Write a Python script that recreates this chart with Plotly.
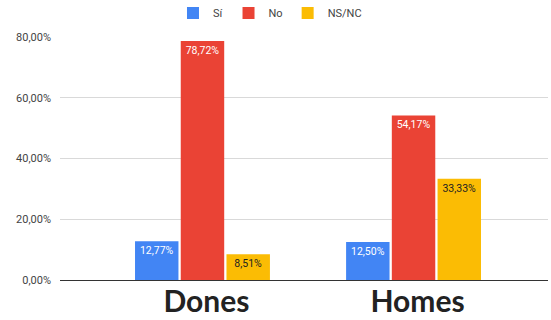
import plotly.graph_objects as go

categories = ["Dones", "Homes"]
series_names = ["Sí", "No", "NS/NC"]
si_values = [12.77, 12.50]
no_values = [78.72, 54.17]
nsnc_values = [8.51, 33.33]
y_ticks = [0, 20, 40, 60, 80]
y_tick_labels = ["0,00%", "20,00%", "40,00%", "60,00%", "80,00%"]

colors = ["#4285F4", "#EA4335", "#FBBC04"]
text_colors = ["#FFFFFF", "#FFFFFF", "#222222"]

fig = go.Figure()
for name, vals, col, tcol in zip(series_names, [si_values, no_values, nsnc_values], colors, text_colors):
    fig.add_trace(go.Bar(
        name=name, x=categories, y=vals,
        marker=dict(color=col, line=dict(width=0)),
        texttemplate="%{y:.2f}%", textposition="inside", insidetextanchor="end",
        textangle=0,
        textfont=dict(family="Roboto", size=10.5, color=tcol),
        cliponaxis=False,
    ))

fig.update_layout(
    width=551, height=320,
    margin=dict(l=60, r=3, t=37, b=40, autoexpand=False),
    paper_bgcolor="white", plot_bgcolor="white",
    separators=",.",
    barmode="group", bargap=0.35, bargroupgap=0.05,
    uniformtext=dict(mode="show", minsize=8),
    legend=dict(orientation="h", xref="container", x=0.49, xanchor="center",
                y=1.099, yanchor="middle",
                font=dict(family="Roboto", size=11, color="#444444"),
                itemwidth=30, traceorder="normal"),
    xaxis=dict(
        type="category", range=[-0.675, 1.637], automargin=False, tickangle=0,
        tickfont=dict(family="Lato", size=30, color="#222222", weight="bold"),
        showgrid=False, showline=False, ticks="", ticklabelstandoff=1,
        ticklabelshift=4,
    ),
    yaxis=dict(
        range=[0, 80], tickvals=y_ticks, ticktext=y_tick_labels, automargin=False,
        tickfont=dict(family="Roboto", size=11, color="#444444"),
        showgrid=True, gridcolor="#D9D9D9", gridwidth=1,
        zeroline=True, zerolinecolor="#333333", zerolinewidth=1,
        ticks="", ticklabelstandoff=8,
    ),
)

fig.write_html("out.html")
